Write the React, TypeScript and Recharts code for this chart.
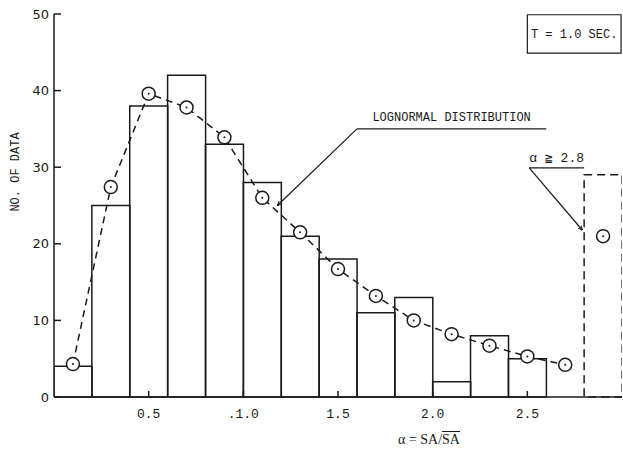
import {
  Bar,
  ComposedChart,
  Line,
  ReferenceArea,
  ReferenceLine,
  XAxis,
  YAxis,
} from "recharts"

// bin centres (alpha = SA / mean SA), bin width 0.2
const binCenters = [0.1, 0.3, 0.5, 0.7, 0.9, 1.1, 1.3, 1.5, 1.7, 1.9, 2.1, 2.3, 2.5, 2.7, 2.9]
// observed counts per bin (last bin is alpha >= 2.8, drawn dashed)
const observed = [4, 25, 38, 42, 33, 28, 21, 18, 11, 13, 2, 8, 5, null, null]
const observedOver = [null, null, null, null, null, null, null, null, null, null, null, null, null, null, 29]
// fitted lognormal counts
const lognormal = [4.3, 27.4, 39.6, 37.8, 33.9, 26, 21.5, 16.7, 13.2, 10, 8.2, 6.7, 5.3, 4.2, null]
const lognormalOver = [null, null, null, null, null, null, null, null, null, null, null, null, null, null, 21]

const xTicks = [0.5, 1.0, 1.5, 2.0, 2.5]
const xTickLabels = ["0.5", ".1.0", "1.5", "2.0", "2.5"]
const yTicks = [0, 10, 20, 30, 40, 50]

const rows = binCenters.map((x, i) => ({
  x,
  observed: observed[i],
  observedOver: observedOver[i],
  lognormal: lognormal[i],
  lognormalOver: lognormalOver[i],
}))

const mono = "'Liberation Mono', 'DejaVu Sans Mono', monospace"
const ink = "#1a1a1a"

function CircleDot(props: any) {
  const { cx, cy, value } = props
  if (value == null || cx == null || cy == null) return null
  return (
    <g>
      <circle cx={cx} cy={cy} r={6.5} fill="#fff" stroke={ink} strokeWidth={1.5} />
      <circle cx={cx} cy={cy} r={1} fill={ink} />
    </g>
  )
}

function YLabel(props: any) {
  const { viewBox } = props
  const x = viewBox.x + 16
  const y = 172
  return (
    <text
      x={x}
      y={y}
      transform={`rotate(-90 ${x} ${y})`}
      textAnchor="middle"
      dominantBaseline="central"
      fontFamily={mono}
      fontSize={12}
      fill={ink}
    >
      NO. OF DATA
    </text>
  )
}

export default function App() {
  return (
    <div style={{ position: "absolute", left: 0, top: 0, background: "#fff" }}>
      <svg width={0} height={0} style={{ position: "absolute" }}>
        <defs>
          <marker id="arrow" viewBox="0 0 10 10" refX="9" refY="5" markerWidth="4" markerHeight="4" orient="auto">
            <path d="M0,1 L10,5 L0,9" fill="none" stroke={ink} strokeWidth={2} />
          </marker>
        </defs>
      </svg>
      <ComposedChart
        width={623}
        height={449}
        data={rows}
        margin={{ top: 14, right: 1, bottom: 22, left: 0 }}
        barCategoryGap={0}
        barGap={0}
      >
        <XAxis
          dataKey="x"
          type="number"
          domain={[0, 3]}
          ticks={xTicks}
          tickFormatter={(v: number) => xTickLabels[xTicks.indexOf(v)] ?? String(v)}
          tickSize={-6}
          tickMargin={18}
          height={30}
          stroke={ink}
          strokeWidth={1.5}
          tick={{ fill: ink, fontFamily: mono, fontSize: 13 }}
          allowDataOverflow
        />
        <YAxis
          type="number"
          domain={[0, 50]}
          ticks={yTicks}
          width={54}
          tickSize={-7}
          tickMargin={12}
          stroke={ink}
          strokeWidth={1.5}
          tick={{ fill: ink, fontFamily: "'DejaVu Sans', sans-serif", fontSize: 13 }}
          label={<YLabel />}
        />
        <Bar
          dataKey="observed"
          stackId="hist"
          fill="none"
          stroke={ink}
          strokeWidth={1.5}
          isAnimationActive={false}
        />
        <Bar
          dataKey="observedOver"
          stackId="hist"
          fill="none"
          stroke={ink}
          strokeWidth={1.5}
          strokeDasharray="8 5"
          isAnimationActive={false}
        />
        <Line
          dataKey="lognormal"
          type="linear"
          stroke={ink}
          strokeWidth={1.5}
          strokeDasharray="7 5"
          dot={<CircleDot />}
          activeDot={false}
          isAnimationActive={false}
        />
        <Line
          dataKey="lognormalOver"
          type="linear"
          stroke="none"
          dot={<CircleDot />}
          activeDot={false}
          isAnimationActive={false}
        />
        <ReferenceLine
          segment={[{ x: 1.6, y: 35 }, { x: 2.6, y: 35 }]}
          stroke={ink}
          strokeWidth={1.2}
          label={{ value: "LOGNORMAL DISTRIBUTION", position: "top", offset: 8, fill: ink, fontFamily: mono, fontSize: 12 }}
        />
        <ReferenceLine
          segment={[{ x: 1.6, y: 35 }, { x: 1.18, y: 25 }]}
          stroke={ink}
          strokeWidth={1.2}
          markerEnd="url(#arrow)"
        />
        <ReferenceLine
          segment={[{ x: 2.51, y: 29.9 }, { x: 2.8, y: 29.9 }]}
          stroke={ink}
          strokeWidth={1.2}
          label={{ value: "\u03b1 \u2267 2.8", position: "top", offset: 6, fill: ink, fontFamily: mono, fontSize: 13 }}
        />
        <ReferenceLine
          segment={[{ x: 2.51, y: 29.9 }, { x: 2.79, y: 21.8 }]}
          stroke={ink}
          strokeWidth={1.2}
          markerEnd="url(#arrow)"
        />
        <ReferenceArea
          x1={2.5}
          x2={2.995}
          y1={44.9}
          y2={49.9}
          fill="#fff"
          fillOpacity={1}
          stroke={ink}
          strokeWidth={1.2}
          label={{ value: "T = 1.0 SEC.", position: "center", fill: ink, fontFamily: mono, fontSize: 12 }}
        />
      </ComposedChart>
      <div
        style={{
          position: "absolute",
          left: 0,
          top: 432,
          width: 858,
          textAlign: "center",
          fontFamily: "'Liberation Serif', serif",
          fontSize: 14,
          color: ink,
        }}
      >
        {"\u03b1 = SA/"}
        <span style={{ textDecoration: "overline" }}>SA</span>
      </div>
    </div>
  )
}
